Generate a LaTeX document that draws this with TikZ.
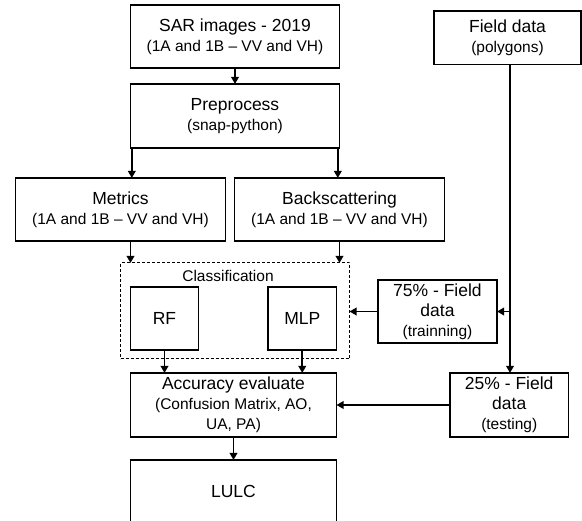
\documentclass[tikz,border=0pt]{standalone}
\usepackage{fontspec}
\setmainfont{Liberation Sans}
\usetikzlibrary{arrows.meta}
\newcommand\mtxt{\fontsize{17.5}{20}\selectfont}
\newcommand\subtxt{\fontsize{15.5}{19}\selectfont}
\tikzset{
  box/.style={draw, line width=1.4pt, rectangle, inner sep=0pt, outer sep=0pt,
    align=center, anchor=north west, font=\mtxt},
  dbox/.style={draw, line width=1pt, dash pattern=on 3pt off 2pt, rectangle,
    inner sep=0pt, outer sep=0pt, anchor=north west},
  conn/.style={line width=1.8pt, -{Triangle[length=7pt,width=7.5pt]}},
}
\begin{document}
\begin{tikzpicture}[x=1pt,y=-1pt]
\useasboundingbox (0,0) rectangle (582,521);
\clip (0,0) rectangle (582,521);
% boxes
\node[box, minimum width=209pt, minimum height=63pt] (sar) at (130.5,5)
  {SAR images - 2019\\{\subtxt (1A and 1B – VV and VH)}};
\node[box, minimum width=147pt, minimum height=53.5pt] (field) at (434,11)
  {Field data\\{\subtxt (polygons)}};
\node[box, minimum width=209pt, minimum height=64pt] (pre) at (130.5,84)
  {Preprocess\\{\subtxt (snap-python)}};
\node[box, minimum width=210pt, minimum height=63pt] (met) at (15.5,178)
  {Metrics\\{\subtxt (1A and 1B – VV and VH)}};
\node[box, minimum width=210pt, minimum height=63pt] (back) at (234.5,178)
  {Backscattering\\{\subtxt (1A and 1B – VV and VH)}};
\node[dbox, minimum width=229pt, minimum height=96pt] (cls) at (120.5,263) {};
\node[font=\subtxt, inner sep=0pt] (clslabel) at (228,276) {Classification};
\node[box, minimum width=68pt, minimum height=63pt] (rf) at (130.5,287) {RF};
\node[box, minimum width=68.5pt, minimum height=63pt] (mlp) at (268,287) {MLP};
\node[box, minimum width=119pt, minimum height=63pt] (t75) at (378,280)
  {75\% - Field\\data\\{\subtxt (trainning)}};
\node[box, minimum width=206pt, minimum height=64pt] (acc) at (130.5,373)
  {Accuracy evaluate\\{\subtxt (Confusion Matrix, AO,}\\{\subtxt UA, PA)}};
\node[box, minimum width=118.5pt, minimum height=64pt] (t25) at (450,373)
  {25\% - Field\\data\\{\subtxt (testing)}};
\node[box, minimum width=206pt, minimum height=63.4pt] (lulc) at (130.5,460) {LULC};
% connectors
\draw[conn] (sar.south) -- (pre.north);
\coordinate (pl) at ([xshift=1.3pt]pre.south west);
\coordinate (pr) at ([xshift=-1.7pt]pre.south east);
\draw[conn] (pl) -- (pl |- met.north);
\draw[conn] (pr) -- (pr |- back.north);
\draw[conn] (rf.west |- met.south) -- (rf.west |- cls.north);
\draw[conn] (back.south) -- (back.south |- cls.north);
\draw[conn] (rf.south) -- (rf.south |- acc.north);
\draw[conn] (mlp.south) -- (mlp.south |- acc.north);
\draw[conn] (acc.south) -- (lulc.north);
\coordinate (fx) at (510,0);
\draw[conn] (fx |- field.south) -- (fx |- t25.north);
\draw[conn] (fx |- t75.east) -- (t75.east);
\draw[conn] (t75.west) -- (t75.west -| cls.east);
\draw[conn] (t25.west) -- (t25.west -| acc.east);
\end{tikzpicture}
\end{document}
